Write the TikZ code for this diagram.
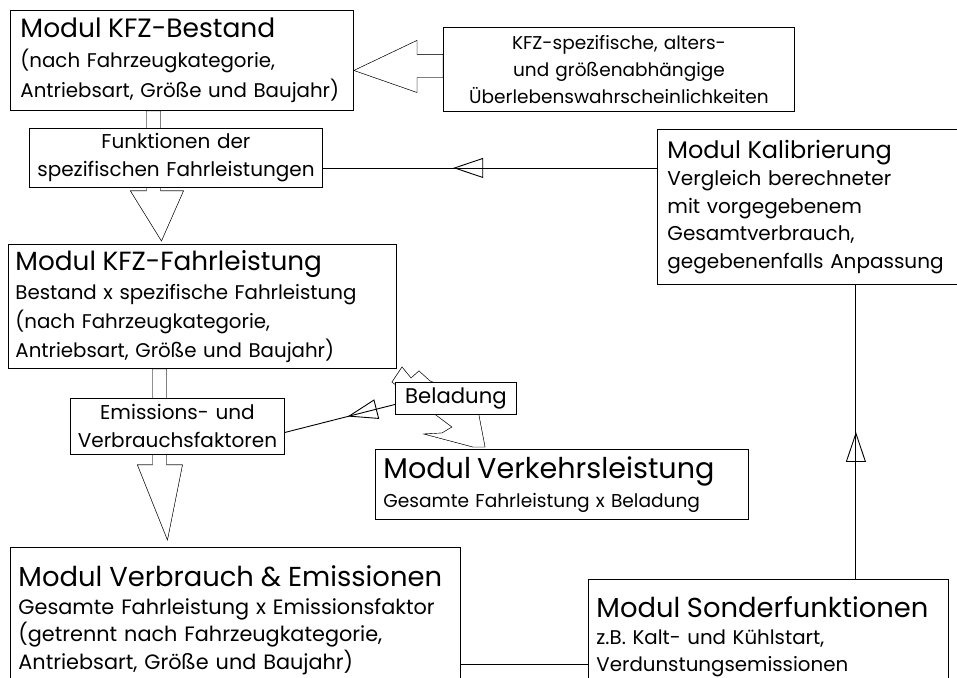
\documentclass[tikz,border=0pt]{standalone}
\usepackage{fontspec}
\setmainfont{Poppins}
\usetikzlibrary{arrows.meta,calc,backgrounds,decorations.markings}

\newcommand{\modtitle}[2][26.5]{{\fontsize{#1}{30}\selectfont #2}}
\newcommand{\bodysize}[2][29]{\fontsize{#2}{#1}\selectfont}

\begin{document}
\begin{tikzpicture}[x=1pt,y=-1pt,line width=0.9pt,
  box/.style={draw, fill=white, anchor=north west, inner ysep=0pt, font={\bodysize{20}}},
  modbox/.style={box, align=left},
  labbox/.style={box, align=center},
  blockarr/.style={draw, fill=white, line join=miter},
  midtri/.style={postaction={decorate}, decoration={markings, mark=at position #1 with {\arrow{Triangle[open, length=30pt, width=20pt]}}}}]

\useasboundingbox (0,0) rectangle (957,677);

% MODULES
\node[modbox, font={\bodysize[30]{19.8}}, inner xsep=10pt, text width=323pt, minimum height=100pt] (best) at (10,10)
  {\modtitle{Modul KFZ-Bestand}\\(nach Fahrzeugkategorie,\\Antriebsart, Größe und Baujahr)};
\node[modbox, font={\bodysize[27.5]{20}}, inner xsep=10pt, text width=279.5pt, minimum height=155pt] (kal) at (657,129)
  {\modtitle[24]{Modul Kalibrierung}\\Vergleich berechneter\\mit vorgegebenem\\Gesamtverbrauch,\\gegebenenfalls Anpassung};
\node[modbox, font={\bodysize{19.8}}, inner xsep=7pt, text width=374pt, minimum height=124pt] (fahr) at (8,244)
  {\modtitle[26.3]{Modul KFZ-Fahrleistung}\\Bestand x spezifische Fahrleistung\\(nach Fahrzeugkategorie,\\Antriebsart, Größe und Baujahr)};
\node[modbox, font={\bodysize{18.6}}, inner xsep=8pt, text width=357pt, minimum height=70pt] (verk) at (375,449)
  {\modtitle[28.6]{Modul Verkehrsleistung}\\Gesamte Fahrleistung x Beladung};
\node[modbox, font={\bodysize[27.5]{20.8}}, inner xsep=8pt, text width=434pt, minimum height=146pt] (verb) at (10,547)
  {\modtitle[27.4]{Modul Verbrauch \& Emissionen}\\Gesamte Fahrleistung x Emissionsfaktor\\(getrennt nach Fahrzeugkategorie,\\Antriebsart, Größe und Baujahr)};
\node[modbox, font={\bodysize[27]{19.8}}, inner xsep=8pt, text width=344pt, minimum height=114pt] (sond) at (588,579)
  {\modtitle[27.4]{Modul Sonderfunktionen}\\z.B. Kalt- und Kühlstart,\\Verdunstungsemissionen};

% INPUTS
\node[labbox, font={\bodysize[27]{18.5}}, inner xsep=10pt, text width=331pt, minimum height=84pt] (uebl) at (443,27)
  {KFZ-spezifische, alters-\\und größenabhängige\\Überlebenswahrscheinlichkeiten};
\node[labbox, font={\bodysize[28]{20}}, inner xsep=6pt, text width=281pt, minimum height=59pt] (fun) at (29,128)
  {Funktionen der\\spezifischen Fahrleistungen};
\node[labbox, font={\bodysize[28]{20}}, inner xsep=6pt, text width=202pt, minimum height=56pt] (emis) at (70,398)
  {Emissions- und\\Verbrauchsfaktoren};
\node[labbox, font={\bodysize{21.2}}, inner xsep=4pt, text width=113pt, minimum height=32pt] (bel) at (395,382)
  {Beladung};

% BLOCK ARROWS
\begin{scope}[on background layer]
\foreach \s/\t in {-1.5/-2,0/0}
  \filldraw[blockarr, shift={(\s,\t)}] ($(uebl.west)+(0,-15)$) -- ++(-26,0) -- ++(0,-14)
    -- ++(-63,30) -- ++(63,22) -- ++(0,-15) -- ++(26,0) -- cycle;
\foreach \s in {-2.5,0}
  \filldraw[blockarr, shift={(\s,0)}] ($(best.south)+(-35.5,0)$) -- ++(0,80) -- ++(-16,0)
    -- ++(31,50) -- ++(22,-50) -- ++(-23,0) -- ++(0,-80) -- cycle;
\foreach \s in {-2.5,0}
  \filldraw[blockarr, shift={(\s,0)}] ($(fahr.south)+(-50,0)$) -- ++(0,96) -- ++(-15,0)
    -- ++(30,75) -- ++(15,-75) -- ++(-16,0) -- ++(0,-96) -- cycle;
\foreach \s/\t in {-2/2,0/0}
  \filldraw[blockarr, shift={(\s,\t)}] ($(verk.north west)+(110,-2)$) -- ++(-9,-47) -- ++(-46,-19)
    -- ++(-11,-10) -- ++(-8,7) -- ++(-9,-11) -- ++(-10,15) -- ++(44,33) -- ++(16,12)
    -- ++(-10,6) -- ++(-18,1) -- ++(49,13) -- cycle;
\end{scope}

% LINKS
\coordinate (sk) at ($(sond.north east)+(-93,0)$);
\coordinate (vs) at ($(verb.east)+(0,44)$);
\draw[midtri=0.61] ($(kal.west |- fun.east)+(0,10)$) -- ($(fun.east)+(0,10)$);
\draw[midtri=0.5] (sk) -- (sk |- kal.south);
\draw[midtri=0.43] ($(bel.west)+(0,6)$) -- ($(emis.east)+(0,6)$);
\draw (vs) -- (vs -| sond.west);

\end{tikzpicture}
\end{document}
